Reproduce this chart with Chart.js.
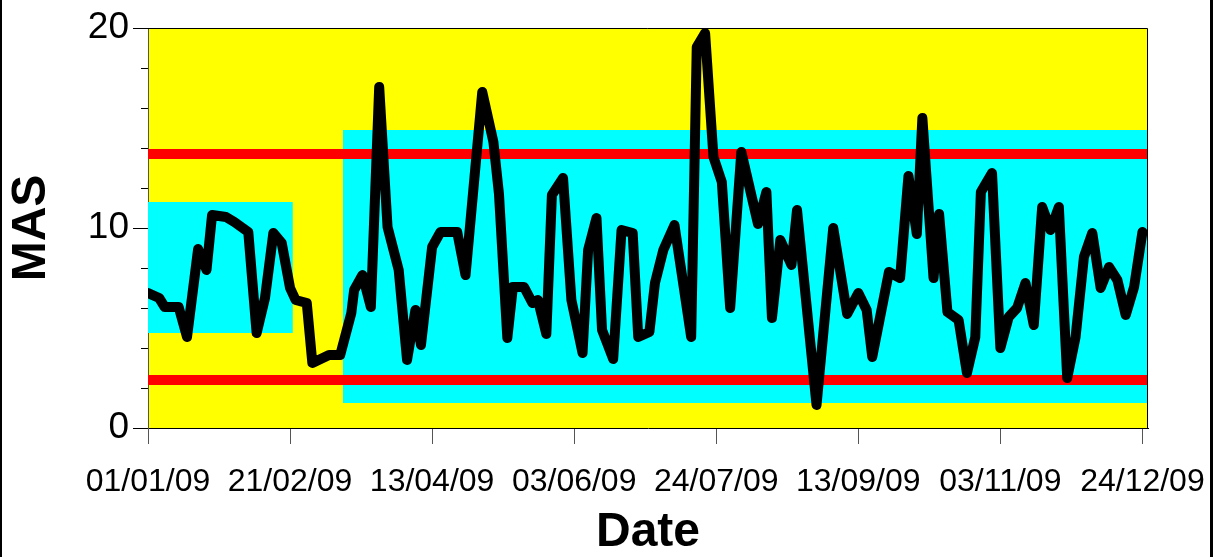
<!DOCTYPE html>
<html>
<head>
<meta charset="utf-8">
<script src="https://cdn.jsdelivr.net/npm/chart.js@4"></script>
<style>
  html, body { margin: 0; padding: 0; background: #fff; }
  #wrap { width: 1219px; height: 557px; }
</style>
</head>
<body>
<div id="wrap"><canvas id="chart" width="1219" height="557"></canvas></div>
<script>
// day number counted from 01/01/09
const days = [0, 4, 6, 11, 14, 18, 21, 23, 28, 31, 36, 39, 42, 45, 48, 51, 53, 57, 59, 65,
  69, 73, 74, 77, 80, 83, 86, 90, 93, 96, 98, 102, 105, 111, 114, 120, 124, 126, 129, 131,
  135, 138, 140, 143, 145, 149, 152, 156, 158, 161, 163, 167, 170, 174, 176, 180, 182, 185, 189, 195,
  197, 200, 203, 206, 209, 213, 219, 222, 224, 227, 231, 233, 240, 246, 251, 255, 258, 260, 266, 270,
  273, 276, 278, 282, 284, 287, 291, 294, 297, 299, 303, 306, 309, 312, 315, 318, 321, 324, 327, 330,
  333, 336, 339, 342, 345, 348, 351, 354, 357];
const mas = [6.75, 6.5, 6.05, 6.05, 4.55, 8.95, 7.9, 10.65, 10.55, 10.3, 9.8, 4.75, 6.5, 9.75, 9.25, 7.0, 6.4, 6.25, 3.25, 3.65,
  3.65, 5.75, 6.9, 7.65, 6.05, 17.05, 10.05, 7.9, 3.4, 5.9, 4.15, 9.05, 9.8, 9.8, 7.65, 16.8, 14.3, 11.7, 4.5, 7.05,
  7.05, 6.25, 6.4, 4.7, 11.65, 12.5, 6.4, 3.75, 8.9, 10.5, 4.9, 3.45, 9.9, 9.75, 4.55, 4.8, 7.25, 8.9, 10.15, 4.55,
  19.05, 19.75, 13.55, 12.3, 6.0, 13.8, 10.2, 11.8, 5.5, 9.4, 8.15, 10.9, 1.15, 10.0, 5.7, 6.75, 5.9, 3.55, 7.8, 7.5,
  12.6, 9.7, 15.5, 7.5, 10.7, 5.8, 5.4, 2.75, 4.55, 11.8, 12.75, 4.0, 5.55, 6.0, 7.25, 5.15, 11.05, 9.9, 11.05, 2.5,
  4.55, 8.55, 9.75, 7.0, 8.05, 7.4, 5.65, 7.05, 9.8];

// control limits
const upperLimit = 13.7;
const lowerLimit = 2.4;

// cyan bands: [startDay, endDay, low, high]
const band1 = [0, 52, 4.75, 11.3];
const band2 = [70, 359, 1.25, 14.9];

const xMin = 0;
const xMax = 359;
const xTickDays = [0, 51, 102, 153, 204, 255, 306, 357];
const xTickLabels = ['01/01/09', '21/02/09', '13/04/09', '03/06/09', '24/07/09', '13/09/09', '03/11/09', '24/12/09'];
const yMajorTicks = [0, 10, 20];
const yMinorTicks = [2, 4, 6, 8, 12, 14, 16, 18];

const FONT = "'Liberation Sans', Arial, Helvetica, sans-serif";

function bandSets(b) {
  return [
    {
      data: [{ x: b[0], y: b[3] }, { x: b[1], y: b[3] }],
      fill: '+1', backgroundColor: '#00ffff', borderColor: 'rgba(0,0,0,0)',
      borderWidth: 0, pointRadius: 0, order: 3,
    },
    {
      data: [{ x: b[0], y: b[2] }, { x: b[1], y: b[2] }],
      fill: false, borderColor: 'rgba(0,0,0,0)', borderWidth: 0, pointRadius: 0, order: 3,
    },
  ];
}

function limitSet(v) {
  return {
    data: [{ x: xMin, y: v }, { x: xMax, y: v }],
    borderColor: '#ff0000', borderWidth: 10, pointRadius: 0, fill: false, order: 1,
  };
}

const plotDecor = {
  id: 'plotDecor',
  beforeDraw(chart) {
    const { ctx, chartArea: a } = chart;
    ctx.save();
    ctx.fillStyle = '#ffff00';
    ctx.fillRect(a.left, a.top, a.width, a.height);
    ctx.restore();
  },
  afterDraw(chart) {
    const { ctx, chartArea: a, scales } = chart;
    ctx.save();
    ctx.strokeStyle = '#000';
    ctx.lineWidth = 1;
    ctx.beginPath();
    ctx.moveTo(a.left, a.top + 0.5);
    ctx.lineTo(a.right - 0.5, a.top + 0.5);
    ctx.lineTo(a.right - 0.5, a.bottom);
    ctx.stroke();
    yMinorTicks.forEach(v => {
      const y = Math.round(scales.y.getPixelForValue(v)) + 0.5;
      ctx.beginPath();
      ctx.moveTo(a.left - 7, y);
      ctx.lineTo(a.left, y);
      ctx.stroke();
    });
    // outer frame of the picture
    ctx.fillStyle = '#000';
    ctx.fillRect(0, 0, 2, chart.height);
    ctx.fillRect(1210, 0, 3, chart.height);
    ctx.restore();
  },
};

new Chart(document.getElementById('chart'), {
  type: 'line',
  data: {
    datasets: [
      {
        data: days.map((d, i) => ({ x: d, y: mas[i] })),
        borderColor: '#000000', borderWidth: 10, pointRadius: 0, tension: 0,
        borderJoinStyle: 'round', borderCapStyle: 'round', fill: false, order: 0,
      },
      limitSet(upperLimit),
      limitSet(lowerLimit),
      ...bandSets(band1),
      ...bandSets(band2),
    ],
  },
  options: {
    responsive: false,
    animation: false,
    layout: { padding: { left: 0, top: 28, right: 71, bottom: 0 } },
    plugins: { legend: { display: false }, tooltip: { enabled: false } },
    scales: {
      x: {
        type: 'linear', min: xMin, max: xMax,
        afterBuildTicks: s => { s.ticks = xTickDays.map(v => ({ value: v })); },
        afterFit: s => { s.height = 129; s.paddingLeft = 0; s.paddingRight = 0; },
        ticks: {
          autoSkip: false, maxRotation: 0, padding: 19, color: '#000',
          font: { family: FONT, size: 32 },
          callback: (v, i) => xTickLabels[i],
        },
        grid: { drawOnChartArea: false, tickLength: 16, color: '#555' },
        border: { display: true, color: '#000', width: 1 },
        title: {
          display: true, text: 'Date', color: '#000', padding: 0,
          font: { family: FONT, size: 48, weight: 'bold', lineHeight: 1 },
        },
      },
      y: {
        min: 0, max: 20,
        afterBuildTicks: s => { s.ticks = yMajorTicks.map(v => ({ value: v })); },
        afterFit: s => { s.width = 148; },
        ticks: { padding: 4, color: '#000', font: { family: FONT, size: 37 } },
        grid: { drawOnChartArea: false, tickLength: 15, color: '#000' },
        border: { display: true, color: '#555', width: 1 },
        title: {
          display: true, text: 'MAS', color: '#000', padding: { top: 8, bottom: 0 },
          font: { family: FONT, size: 48, weight: 'bold', lineHeight: 1 },
        },
      },
    },
  },
  plugins: [plotDecor],
});
</script>
</body>
</html>
